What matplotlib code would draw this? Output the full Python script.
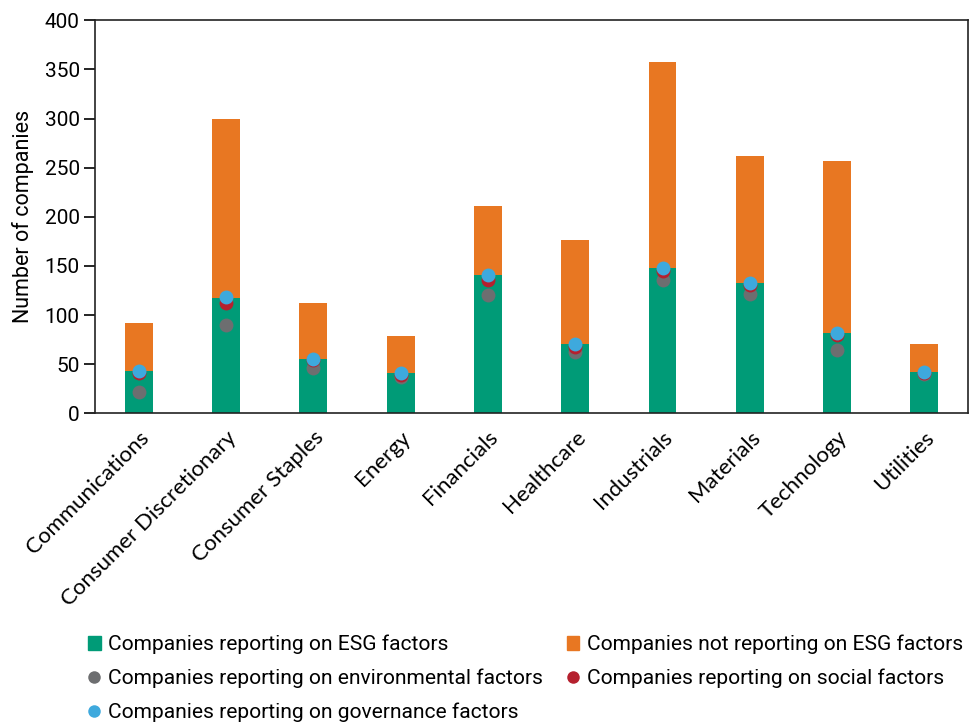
import matplotlib
matplotlib.use("Agg")
import matplotlib.pyplot as plt
from matplotlib.lines import Line2D
from matplotlib.patches import Patch
import numpy as np

sectors = [
    "Communications", "Consumer Discretionary", "Consumer Staples", "Energy",
    "Financials", "Healthcare", "Industrials", "Materials", "Technology", "Utilities",
]
total = [92, 300, 112, 79, 211, 176, 358, 262, 257, 71]
esg = [43, 117, 55, 41, 141, 70, 148, 133, 82, 42]
environmental = [22, 90, 46, 37, 120, 62, 136, 121, 64, 40]
social = [41, 112, 54, 39, 136, 67, 145, 131, 80, 41]
governance = [43, 118, 55, 41, 141, 70, 148, 133, 82, 42]

GREEN = "#009b77"
ORANGE = "#e87722"
GREY = "#6d6e70"
RED = "#b5202e"
BLUE = "#3ea9dd"

plt.rcParams["font.family"] = ["Roboto", "DejaVu Sans"]

fig = plt.figure(figsize=(9.7, 7.25), dpi=100)
ax = fig.add_axes([0.098, 0.430, 0.900, 0.542])

x = np.arange(len(sectors))
not_esg = [t - e for t, e in zip(total, esg)]
w = 0.32
ax.bar(x, esg, width=w, color=GREEN, zorder=2)
ax.bar(x, not_esg, width=w, bottom=esg, color=ORANGE, zorder=2)

ms = 10
ax.plot(x, environmental, "o", color=GREY, ms=ms, zorder=3, mec="none")
ax.plot(x, social, "o", color=RED, ms=ms, zorder=4, mec="none")
ax.plot(x, governance, "o", color=BLUE, ms=ms, zorder=5, mec="none")

ax.set_xlim(-0.5, len(sectors) - 0.5)
ax.set_ylim(0, 400)
ax.set_yticks(range(0, 401, 50))
ax.tick_params(axis="y", direction="out", length=8, width=1.2, labelsize=15, pad=3)
ax.tick_params(axis="x", length=0, pad=10)
ax.set_xticks(x)
ax.set_xticklabels(sectors, rotation=45, ha="right", rotation_mode="anchor",
                   fontsize=16, family=["Lato", "DejaVu Sans"])
ax.set_ylabel("Number of companies", fontsize=15.5, labelpad=8)
for s in ax.spines.values():
    s.set_linewidth(1.2)
    s.set_color("#222222")

handles = [
    Patch(color=GREEN, label="Companies reporting on ESG factors"),
    Patch(color=ORANGE, label="Companies not reporting on ESG factors"),
    Line2D([], [], marker="o", ls="none", color=GREY, mec="none", ms=9,
           label="Companies reporting on environmental factors"),
    Line2D([], [], marker="o", ls="none", color=RED, mec="none", ms=9,
           label="Companies reporting on social factors"),
    Line2D([], [], marker="o", ls="none", color=BLUE, mec="none", ms=9,
           label="Companies reporting on governance factors"),
]
order = [0, 2, 4, 1, 3]
fig.legend([handles[i] for i in order], [handles[i].get_label() for i in order],
           loc="upper left", bbox_to_anchor=(0.082, 0.136), ncol=2, frameon=False,
           fontsize=15.1, handlelength=0.6, handleheight=0.6, handletextpad=0.35,
           columnspacing=1.15, labelspacing=0.68, borderaxespad=0)

fig.savefig("out.png", dpi=100)
